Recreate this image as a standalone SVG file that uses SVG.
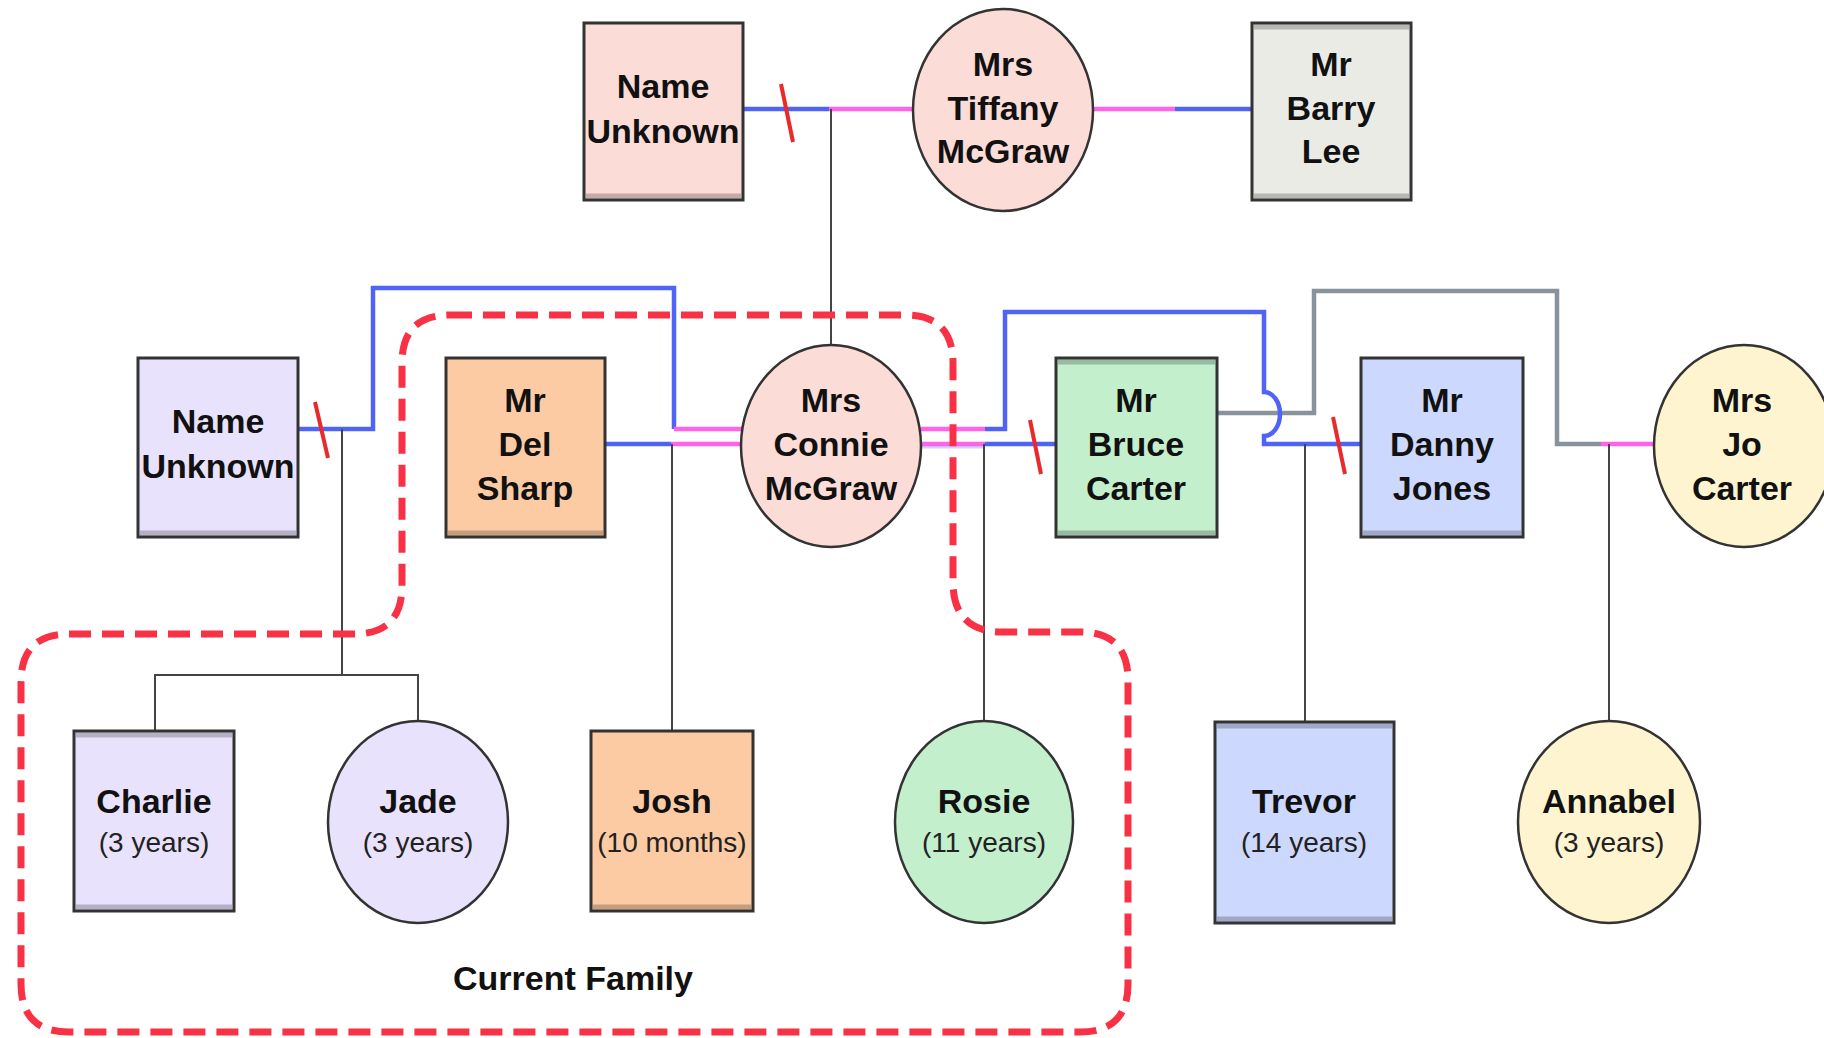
<svg xmlns="http://www.w3.org/2000/svg" width="1824" height="1038" viewBox="0 0 1824 1038">
<style>
.t{font-family:"Liberation Sans",Arial,sans-serif;font-weight:bold;font-size:34px;text-anchor:middle;fill:#111}
.s{font-family:"Liberation Sans",Arial,sans-serif;font-size:28px;text-anchor:middle;fill:#222}
.box{stroke:#333;stroke-width:3}
.band{stroke:#000;stroke-opacity:0.22;stroke-width:5}
.ell{stroke:#333;stroke-width:2.5}
.blue{stroke:#4f63f7;stroke-width:4.5;fill:none}
.pink{stroke:#ff63e6;stroke-width:4.5;fill:none}
.grey{stroke:#89939b;stroke-width:4.5;fill:none}
.thin{stroke:#444;stroke-width:2;fill:none}
.slash{stroke:#e82a2a;stroke-width:4;fill:none}
.pinkF{fill:#fcdcd6}.greyF{fill:#ebebe6}.lavF{fill:#e9e2fc}.peachF{fill:#fdcba3}.greenF{fill:#c4efcd}.blueF{fill:#ccd8fd}.yelF{fill:#fef4d0}
</style>
<rect width="1824" height="1038" fill="#fff"/>
<g id="connectors">
  <!-- top couple -->
  <path class="blue" d="M744,109 H829"/>
  <path class="pink" d="M829,109 H914"/>
  <path class="slash" d="M781,84 L793,142"/>
  <path class="thin" d="M831,109 V345"/>
  <path class="pink" d="M1093,109 H1175"/>
  <path class="blue" d="M1175,109 H1252"/>
  <!-- Name Unknown (mid) - Connie -->
  <path class="blue" d="M298,429 H373 V288 H674 V429"/>
  <path class="pink" d="M674,429 H742"/>
  <path class="slash" d="M315,402 L328,458"/>
  <path class="thin" d="M342,429 V675 M155,731 V675 H418 V721"/>
  <!-- Del - Connie -->
  <path class="blue" d="M605,444 H671"/>
  <path class="pink" d="M671,444 H742"/>
  <path class="thin" d="M672,444 V731"/>
  <!-- Bruce - Jo (grey) -->
  <path class="grey" d="M1217,413 H1314 V291 H1557 V444 H1601"/>
  <path class="pink" d="M1601,444 H1654"/>
  <path class="thin" d="M1609,444 V721"/>
  <!-- Connie - Bruce -->
  <path class="pink" d="M921,444 H985"/>
  <path d="M921,447 H985" stroke="#8f86ff" stroke-opacity="0.4" stroke-width="3"/>
  <path class="blue" d="M985,444 H1056"/>
  <path class="slash" d="M1030,420 L1041,474"/>
  <path class="thin" d="M984,444 V721"/>
  <!-- Connie - Danny -->
  <path class="pink" d="M921,429 H985"/>
  <path class="blue" d="M985,429 H1005 V312 H1264 V392 A16 22 0 0 1 1264,436 V444 H1361"/>
  <path class="slash" d="M1333,417 L1345,474"/>
  <path class="thin" d="M1305,444 V722"/>
</g>
<g id="current-family">
  <path d="M450,315 H905 Q953,315 953,363 V582 Q953,632 1003,632 H1080 Q1128,632 1128,680 V984 Q1128,1032 1080,1032 H69 Q21,1032 21,984 V682 Q21,634 69,634 H354 Q402,634 402,586 V363 Q402,315 450,315 Z" fill="none" stroke="#f93145" stroke-width="7" stroke-dasharray="22 11"/>
  <text class="t" x="573" y="990">Current Family</text>
</g>
<g id="name-unknown-top">
  <rect class="box pinkF" x="584" y="23" width="159" height="177"/>
  <line class="band" x1="586" y1="196" x2="741" y2="196"/>
  <text class="t" x="663" y="98">Name</text>
  <text class="t" x="663" y="143">Unknown</text>
</g>
<g id="tiffany">
  <ellipse class="ell pinkF" cx="1003" cy="110" rx="90" ry="101"/>
  <text class="t" x="1003" y="76">Mrs</text>
  <text class="t" x="1003" y="120">Tiffany</text>
  <text class="t" x="1003" y="163">McGraw</text>
</g>
<g id="barry">
  <rect class="box greyF" x="1252" y="23" width="159" height="177"/>
  <line class="band" x1="1254" y1="196" x2="1409" y2="196"/>
  <line class="band" x1="1254" y1="27" x2="1409" y2="27" stroke-opacity="0.1"/>
  <text class="t" x="1331" y="76">Mr</text>
  <text class="t" x="1331" y="120">Barry</text>
  <text class="t" x="1331" y="163">Lee</text>
</g>
<g id="name-unknown-mid">
  <rect class="box lavF" x="138" y="358" width="160" height="179"/>
  <line class="band" x1="140" y1="533" x2="296" y2="533"/>
  <text class="t" x="218" y="433">Name</text>
  <text class="t" x="218" y="478">Unknown</text>
</g>
<g id="del">
  <rect class="box peachF" x="446" y="358" width="159" height="179"/>
  <line class="band" x1="448" y1="533" x2="603" y2="533"/>
  <text class="t" x="525" y="412">Mr</text>
  <text class="t" x="525" y="456">Del</text>
  <text class="t" x="525" y="500">Sharp</text>
</g>
<g id="connie">
  <ellipse class="ell pinkF" cx="831" cy="446" rx="90" ry="101"/>
  <text class="t" x="831" y="412">Mrs</text>
  <text class="t" x="831" y="456">Connie</text>
  <text class="t" x="831" y="500">McGraw</text>
</g>
<g id="bruce">
  <rect class="box greenF" x="1056" y="358" width="161" height="179"/>
  <line class="band" x1="1058" y1="533" x2="1215" y2="533"/>
  <line class="band" x1="1058" y1="362" x2="1215" y2="362" stroke-opacity="0.08"/>
  <text class="t" x="1136" y="412">Mr</text>
  <text class="t" x="1136" y="456">Bruce</text>
  <text class="t" x="1136" y="500">Carter</text>
</g>
<g id="danny">
  <rect class="box blueF" x="1361" y="358" width="162" height="179"/>
  <line class="band" x1="1363" y1="533" x2="1521" y2="533"/>
  <text class="t" x="1442" y="412">Mr</text>
  <text class="t" x="1442" y="456">Danny</text>
  <text class="t" x="1442" y="500">Jones</text>
</g>
<g id="jo">
  <ellipse class="ell yelF" cx="1744" cy="446" rx="90" ry="101"/>
  <text class="t" x="1742" y="412">Mrs</text>
  <text class="t" x="1742" y="456">Jo</text>
  <text class="t" x="1742" y="500">Carter</text>
</g>
<g id="charlie">
  <rect class="box lavF" x="74" y="731" width="160" height="180"/>
  <line class="band" x1="76" y1="735" x2="232" y2="735"/>
  <line class="band" x1="76" y1="907" x2="232" y2="907"/>
  <text class="t" x="154" y="813">Charlie</text>
  <text class="s" x="154" y="852">(3 years)</text>
</g>
<g id="jade">
  <ellipse class="ell lavF" cx="418" cy="822" rx="90" ry="101"/>
  <text class="t" x="418" y="813">Jade</text>
  <text class="s" x="418" y="852">(3 years)</text>
</g>
<g id="josh">
  <rect class="box peachF" x="591" y="731" width="162" height="180"/>
  <line class="band" x1="593" y1="907" x2="751" y2="907"/>
  <text class="t" x="672" y="813">Josh</text>
  <text class="s" x="672" y="852">(10 months)</text>
</g>
<g id="rosie">
  <ellipse class="ell greenF" cx="984" cy="822" rx="89" ry="101"/>
  <text class="t" x="984" y="813">Rosie</text>
  <text class="s" x="984" y="852">(11 years)</text>
</g>
<g id="trevor">
  <rect class="box blueF" x="1215" y="722" width="179" height="201"/>
  <line class="band" x1="1217" y1="726" x2="1392" y2="726"/>
  <line class="band" x1="1217" y1="919" x2="1392" y2="919"/>
  <text class="t" x="1304" y="813">Trevor</text>
  <text class="s" x="1304" y="852">(14 years)</text>
</g>
<g id="annabel">
  <ellipse class="ell yelF" cx="1609" cy="822" rx="91" ry="101"/>
  <text class="t" x="1609" y="813">Annabel</text>
  <text class="s" x="1609" y="852">(3 years)</text>
</g>
</svg>
